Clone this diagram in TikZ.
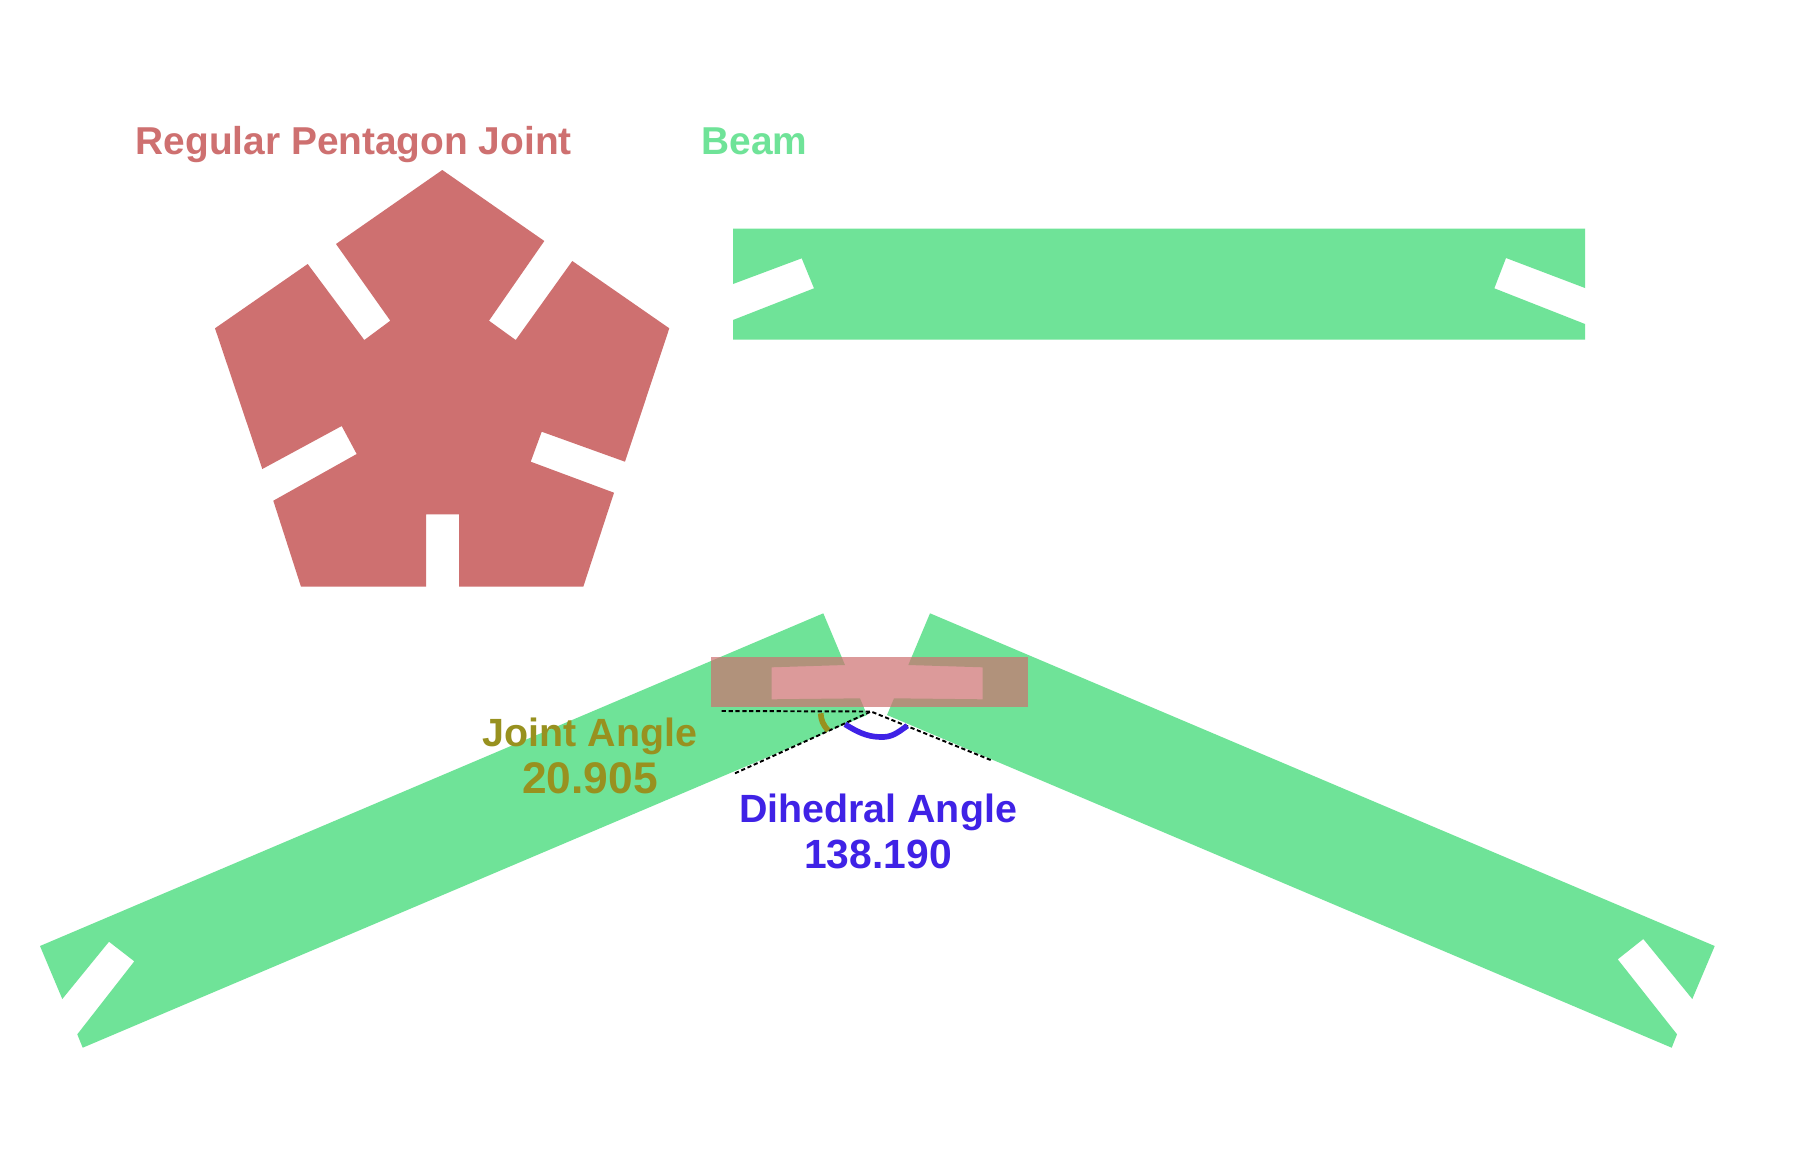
\documentclass[tikz,border=0pt]{standalone}
\usepackage{fontspec}
\usepackage{tikz}
\setmainfont{Liberation Sans}
\definecolor{jointred}{HTML}{CE7070}
\definecolor{beamgreen}{HTML}{6FE398}
\definecolor{angleolive}{HTML}{98911F}
\definecolor{angleblue}{HTML}{3F22E6}
\newcommand{\anglevalue}[2]{{\fontsize{#1}{13.2}\selectfont #2}}

\begin{document}
\begin{tikzpicture}[
    x=0.01cm, y=-0.01cm,
    jointshape/.style={fill=jointred},
    beamshape/.style={fill=beamgreen},
    overlapbox/.style={fill=jointred, fill opacity=0.7},
    guideline/.style={draw=black, line width=0.55pt, dash pattern=on 1.2pt off 0.75pt},
    anglearc/.style={line width=1.6pt},
    caption/.style={font=\bfseries\fontsize{11.2}{13.2}\selectfont, inner sep=0pt, align=center},
    heading/.style={font=\bfseries\fontsize{11.05}{13.2}\selectfont, inner sep=0pt, anchor=base west}
]
\useasboundingbox (0,0) rectangle (1800,1148);
\fill[white] (0,0) rectangle (1800,1148);

% pentagon joint
\fill[jointshape] (442.3,170) -- (544.3,241) -- (489,320.7) -- (515.7,340) -- (572.3,261)
    -- (669.3,328.3) -- (625,461.7) -- (541.7,431.7) -- (530.7,461.7) -- (614,492.7)
    -- (583.3,586.7) -- (459,586.7) -- (459,514.3) -- (426,514.3) -- (426,586.7)
    -- (301,586.7) -- (273.3,500.7) -- (356.7,454) -- (341.7,426) -- (262.3,469)
    -- (215,328.3) -- (307.7,264) -- (364.3,340) -- (390.3,320.7) -- (336,244) -- cycle;

% straight beam
\fill[beamshape] (733,228.7) -- (1585,228.7) -- (1585,288) -- (1506,258) -- (1494.3,288.3)
    -- (1585,324) -- (1585,339.7) -- (733,339.7) -- (733,320) -- (814,288.3)
    -- (801.7,258.3) -- (733,284) -- cycle;

% beams meeting at the joint
\fill[beamshape] (823.3,613.3) -- (845,665) -- (771.7,667.3) -- (771.7,699.3) -- (860,698.3)
    -- (867,715) -- (82.7,1047.7) -- (77.3,1034.3) -- (134.3,961.3) -- (109,941.7)
    -- (62.3,999) -- (40,946) -- cycle;
\fill[beamshape] (930,613.3) -- (908.3,665) -- (982.7,667.3) -- (982.7,699.3) -- (894,698.3)
    -- (887,715) -- (1671.7,1047.7) -- (1677,1034.3) -- (1617.7,959.3) -- (1643.3,939)
    -- (1692.3,999) -- (1714.7,946) -- cycle;
\fill[overlapbox] (711.3,656.7) rectangle (1028,706.7);

% angle guides
\coordinate (apex) at (871,711.5);
\coordinate (flatend) at (721.7,711);
\coordinate (leftend) at (735,773.3);
\coordinate (rightend) at (990.7,760);
\draw[guideline] (flatend) -- (apex);
\draw[guideline] (leftend) -- (apex);
\draw[guideline] (rightend) -- (apex);

\draw[anglearc, angleolive] (820.7,713.3) .. controls (821,720) and (823,725) .. (828.3,730.5);
\draw[anglearc, angleblue] (845,724.3) .. controls (856,731) and (866,736.7) .. (880,737)
    .. controls (892,737.5) and (897,733) .. (907.3,725.7);

% labels
\node[heading, text=jointred] (jointtitle) at (135,154) {Regular Pentagon Joint};
\node[heading, text=beamgreen] (beamtitle) at (701,154) {Beam};
\node[caption, anchor=base, text=angleolive] (jointangle) at (590,793) {Joint Angle\\\anglevalue{12.6}{20.905}};
\node[caption, anchor=base, text=angleblue] (dihedralangle) at (878,868.6) {Dihedral Angle\\\anglevalue{11.6}{138.190}};
\end{tikzpicture}
\end{document}
